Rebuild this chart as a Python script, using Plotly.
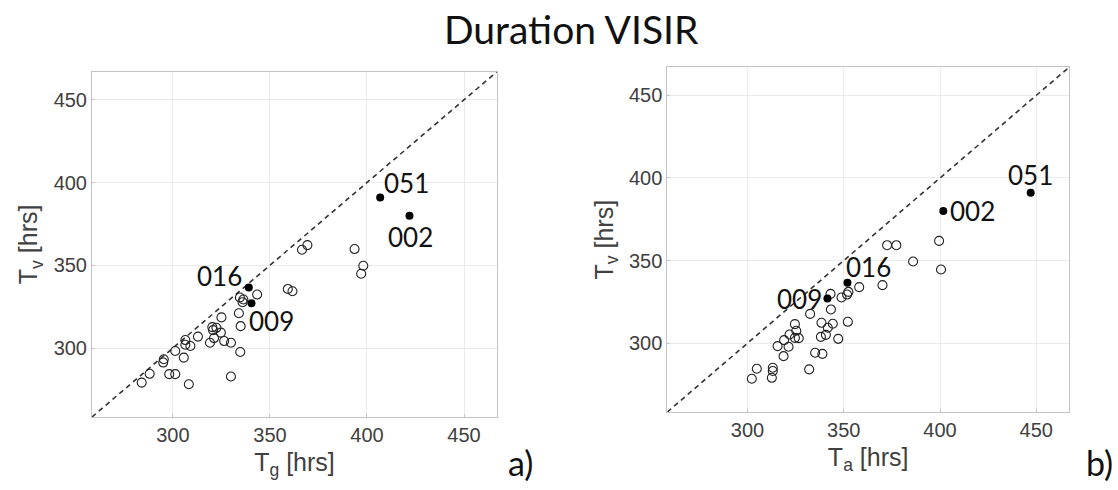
import plotly.graph_objects as go

# ---------------- data ----------------
# Panel a): T_g vs T_v (open circles)
tg_open = [366.5, 369.3, 393.6, 398.1, 397.0, 359.2, 361.6, 343.4, 334.5, 336.3,
           335.9, 334.0, 334.9, 325.0, 320.3, 322.4, 320.7, 324.7, 321.2, 326.4,
           329.9, 319.1, 312.9, 306.4, 306.4, 309.0, 301.2, 305.6, 295.3, 295.0,
           288.0, 283.9, 298.1, 301.2, 308.2, 329.9, 334.7]
tv_open_a = [359.4, 362.2, 359.8, 349.7, 344.9, 335.7, 334.3, 332.3, 330.5, 329.3,
             327.7, 321.0, 313.2, 318.5, 312.6, 312.2, 310.8, 309.3, 306.0, 304.2,
             303.2, 303.2, 306.9, 304.8, 302.0, 301.2, 298.2, 294.2, 293.2, 291.2,
             284.4, 279.1, 284.2, 284.2, 278.1, 282.8, 297.6]

# Panel b): T_a vs T_v (open circles)
ta_open = [372.5, 377.3, 399.5, 400.5, 386.0, 370.1, 358.0, 352.4, 351.7, 348.8,
           343.1, 343.3, 332.5, 352.1, 338.4, 344.3, 341.7, 340.7, 338.1, 347.1,
           324.6, 325.3, 321.8, 324.6, 326.6, 319.0, 315.6, 321.3, 318.7, 335.1,
           338.9, 332.0, 304.8, 313.1, 313.1, 312.6, 302.2]
tv_open_b = [359.3, 359.3, 361.9, 344.6, 349.4, 335.1, 333.9, 331.0, 329.4, 327.6,
             329.8, 320.4, 317.7, 312.9, 312.3, 311.7, 309.3, 305.0, 303.8, 302.6,
             311.5, 307.5, 305.2, 303.2, 303.0, 301.8, 298.2, 297.8, 292.1, 294.2,
             293.5, 284.1, 284.5, 285.1, 283.1, 279.0, 278.4]

# Highlighted cases
hl_ids = ["051", "002", "016", "009"]
tg_hl = [406.8, 421.9, 339.1, 340.5]
ta_hl = [447.1, 401.7, 351.9, 341.5]
tv_hl = [391.0, 380.0, 336.5, 327.0]

tick_vals = [300, 350, 400, 450]
axis_range = [258.3, 467.0]

# ---------------- styling ----------------
label_shift_a = {"051": (26, 14), "002": (1, -21), "016": (-29, 12), "009": (20, -18)}
label_shift_b = {"051": (0, 18), "002": (29, 0), "016": (21, 16), "009": (-28, 0)}

TICK_FONT = dict(family="Liberation Sans, Arial", size=20, color="#404040")
TITLE_FONT = dict(family="Liberation Sans, Arial", size=25, color="#404040")
LABEL_FONT = dict(family="Lato", size=26, color="#111111")

fig = go.Figure()


def add_panel(xs, ys, xh, suffix):
    xa = "x" + suffix
    ya = "y" + suffix
    fig.add_trace(go.Scatter(x=axis_range, y=axis_range, mode="lines",
                             line=dict(color="#333333", width=1.6, dash="5px,4px"),
                             xaxis=xa, yaxis=ya, showlegend=False, hoverinfo="skip"))
    fig.add_trace(go.Scatter(x=xs, y=ys, mode="markers",
                             marker=dict(symbol="circle-open", size=9, color="#222222",
                                         line=dict(width=1.1, color="#222222")),
                             xaxis=xa, yaxis=ya, showlegend=False))
    fig.add_trace(go.Scatter(x=xh, y=tv_hl, mode="markers",
                             marker=dict(symbol="circle", size=8, color="#000000"),
                             xaxis=xa, yaxis=ya, showlegend=False))


add_panel(tg_open, tv_open_a, tg_hl, "")
add_panel(ta_open, tv_open_b, ta_hl, "2")

for i, lab in enumerate(hl_ids):
    dx, dy = label_shift_a[lab]
    fig.add_annotation(x=tg_hl[i], y=tv_hl[i], xref="x", yref="y", text=lab,
                       showarrow=False, xshift=dx, yshift=dy, font=LABEL_FONT)
    dx, dy = label_shift_b[lab]
    fig.add_annotation(x=ta_hl[i], y=tv_hl[i], xref="x2", yref="y2", text=lab,
                       showarrow=False, xshift=dx, yshift=dy, font=LABEL_FONT)

axis_common = dict(range=axis_range, tickvals=tick_vals, showgrid=True,
                   gridcolor="#ebebeb", gridwidth=1, zeroline=False,
                   showline=True, linecolor="#c4c4c4", linewidth=1, mirror=True,
                   ticks="inside", ticklen=3, tickcolor="#c4c4c4",
                   tickfont=TICK_FONT, title_font=TITLE_FONT)

W, H = 1118, 490
fig.update_layout(
    width=W, height=H,
    margin=dict(l=0, r=0, t=0, b=0),
    paper_bgcolor="white", plot_bgcolor="white",
    xaxis=dict(axis_common, domain=[92 / W, 497 / W], anchor="y",
               title=dict(text="T<sub>g</sub> [hrs]", standoff=8)),
    yaxis=dict(axis_common, domain=[1 - 417 / H, 1 - 71.7 / H], anchor="x",
               title=dict(text="T<sub>v</sub> [hrs]", standoff=8)),
    xaxis2=dict(axis_common, domain=[667.3 / W, 1069 / W], anchor="y2",
                title=dict(text="T<sub>a</sub> [hrs]", standoff=8)),
    yaxis2=dict(axis_common, domain=[1 - 412 / H, 1 - 67.3 / H], anchor="x2",
                title=dict(text="T<sub>v</sub> [hrs]", standoff=8)),
    showlegend=False,
)

fig.add_annotation(x=571 / W, y=1 - 29 / H, xref="paper", yref="paper",
                   xanchor="center", yanchor="middle",
                   text="Duration VISIR", showarrow=False,
                   font=dict(family="Lato", size=39, color="#111111"))
fig.add_annotation(x=520 / W, y=1 - 462 / H, xref="paper", yref="paper",
                   xanchor="center", yanchor="middle",
                   text="a)", showarrow=False,
                   font=dict(family="Lato", size=34, color="#111111"))
fig.add_annotation(x=1099 / W, y=1 - 462 / H, xref="paper", yref="paper",
                   xanchor="center", yanchor="middle",
                   text="b)", showarrow=False,
                   font=dict(family="Lato", size=34, color="#111111"))

fig.write_html("out.html")
